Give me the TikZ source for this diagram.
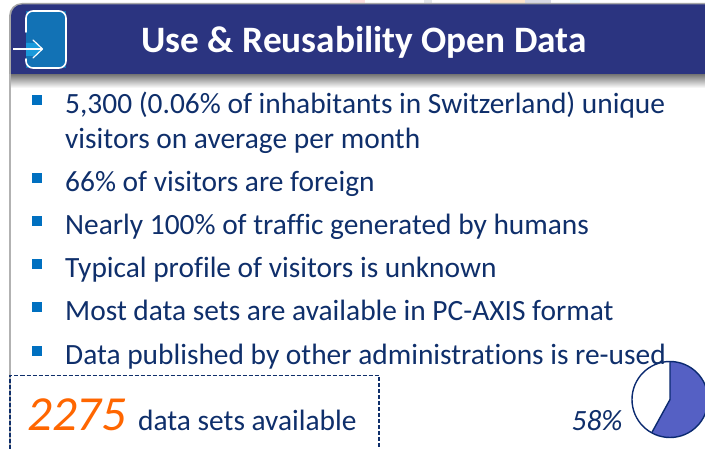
\documentclass[tikz,border=0pt]{standalone}
\usepackage{fontspec}
\setmainfont[Ligatures=NoCommon]{Carlito}
\usetikzlibrary{calc}
\definecolor{hdr}{HTML}{2B3480}
\definecolor{ink}{HTML}{0F2F6B}
\definecolor{bul}{HTML}{0070C0}
\definecolor{org}{HTML}{FF6600}
\definecolor{piefill}{HTML}{5560C4}
\definecolor{pieline}{HTML}{0B2A70}
\definecolor{iconblue}{HTML}{1272B5}
\definecolor{iconlight}{HTML}{1A9ADB}
\tikzset{
  x=1pt,y=-1pt,
  item/.style={anchor=base west,text=ink,font=\fontsize{29.4}{34}\selectfont,inner sep=0pt},
  sq/.style={fill=bul,minimum size=10pt,inner sep=0pt,draw=none},
}
\begin{document}
\begin{tikzpicture}
\useasboundingbox (0,0) rectangle (705,449);
\fill[white] (0,0) rectangle (705,449);
% background traces above the header
\fill[red!12] (350,0) rectangle (365,3);
\fill[cyan!10!gray!22] (424,0) rectangle (432,3);
\fill[orange!20] (490,0) rectangle (525,3);
\fill[blue!20!gray!25] (525,0) rectangle (551,3);
\fill[cyan!8] (570,0) rectangle (580,3);
% frame line
\fill[gray!60] (9,16) rectangle (11,449);
% header shadow
\shade[top color=black!55,bottom color=white] (11,74) rectangle (705,88);
\fill[gray!70] (705,3) -- (22,3) to[out=180,in=90] (9,16) -- (9,74) -- (12,74) -- (12,20) -- (705,5) -- cycle;
\path[fill=hdr] (705,4.5) -- (22,4.5) to[out=180,in=90] (11,16) -- (11,74) -- (705,74) -- cycle;
% icon
\fill[iconblue] (26,11) rectangle (66,68);
\fill[iconlight] (26,43) -- (36,43) -- (43,49) -- (36,56) -- (26,56) -- cycle;
\draw[white,line width=1.6pt,line cap=round] (26,32) -- (26,18) to[out=90,in=180] (33,11) -- (59,11) to[out=0,in=90] (66,18) -- (66,61) to[out=-90,in=0] (59,68) -- (33,68) to[out=180,in=-90] (26,61) -- (26,59);
\draw[white,line width=1.2pt] (13,49) -- (42,49);
\draw[white,line width=1.2pt,line cap=round,line join=round] (33,40) -- (42.5,49) -- (33,58);
\node[anchor=base,text=white,font=\fontsize{37.3}{44}\bfseries\selectfont,inner sep=0pt] (title) at (364,53) {Use \& Reusability Open Data};
% bullets
\node[sq] (b1) at (37,100) {};
\node[item] (t1) at (65,114) {5,300 (0.06\% of inhabitants in Switzerland) unique};
\node[item] (t1b) at (65,149) {visitors on average per month};
\node[sq] (b2) at (37,178) {};
\node[item] (t2) at (65,192) {66\% of visitors are foreign};
\node[sq] (b3) at (37,221) {};
\node[item] (t3) at (65,235) {Nearly 100\% of traffic generated by humans};
\node[sq] (b4) at (37,264) {};
\node[item] (t4) at (65,278) {Typical profile of visitors is unknown};
\node[sq] (b5) at (37,307) {};
\node[item] (t5) at (65,321) {Most data sets are available in PC-AXIS format};
\node[sq] (b6) at (37,351) {};
% dashed box
\draw[ink,line width=1.3pt,dash pattern=on 4pt off 2pt] (10,449) -- (10,375.5) -- (379,375.5) -- (379,449);
\node[anchor=base west,text=org,font=\fontsize{49}{56}\itshape\selectfont,inner sep=0pt] (n) at (27,430) {2275};
\node[item] (d) at (138,430) {data sets available};
\node[anchor=base,text=ink,font=\fontsize{29.4}{34}\itshape\selectfont,inner sep=0pt] (p) at (597,430) {58\%};
% pie
\coordinate (c) at (670,399.5);
\coordinate (ptop) at (670,361.5);
\coordinate (pend) at ($(c)+(-18.3,33.3)$);
\fill[white] (c) circle[radius=38];
\fill[piefill] (c) -- (ptop) arc[start angle=-90,delta angle=208.8,radius=38] -- cycle;
\draw[pieline,line width=1.4pt] (c) circle[radius=38];
\draw[pieline,line width=1.4pt] (ptop) -- (c) -- (pend);
\node[item] (t6) at (65,365) {Data published by other administrations is re-used};
\end{tikzpicture}
\end{document}
